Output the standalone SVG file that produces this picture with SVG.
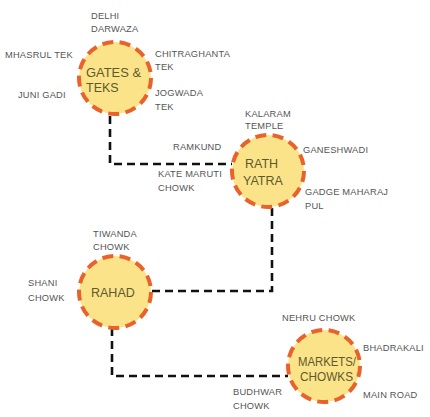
<svg xmlns="http://www.w3.org/2000/svg" width="430" height="417" viewBox="0 0 430 417">
<style>
.bg{fill:#ffffff}
.node circle{fill:#FBE38A;stroke:#E8622C;stroke-width:4;stroke-dasharray:11 6.4}
.lbl{font-family:"Liberation Sans",Arial,sans-serif;font-size:9.3px;fill:#555555;letter-spacing:0.2px}
.ttl{font-family:"Liberation Sans",Arial,sans-serif;font-size:12.5px;fill:#5e5a2c}
.conn path{fill:none;stroke:#111111;stroke-width:2.6;stroke-dasharray:8 5}
</style>
<rect class="bg" x="0" y="0" width="430" height="417"/>
<g id="connectors" class="conn">
<path d="M110 116 V164 H232"/>
<path d="M272 208 V291 H152"/>
<path d="M112 328 V376 H288"/>
</g>
<g id="gates" class="node">
<circle cx="115" cy="78" r="36"/>
<text class="ttl" x="86" y="77" textLength="55" lengthAdjust="spacingAndGlyphs">GATES &amp;</text>
<text class="ttl" x="86" y="92">TEKS</text>
<text class="lbl" x="91" y="19">DELHI</text>
<text class="lbl" x="91" y="32">DARWAZA</text>
<text class="lbl" x="5" y="58">MHASRUL TEK</text>
<text class="lbl" x="155" y="57">CHITRAGHANTA</text>
<text class="lbl" x="155" y="70">TEK</text>
<text class="lbl" x="18" y="98">JUNI GADI</text>
<text class="lbl" x="155" y="96">JOGWADA</text>
<text class="lbl" x="155" y="110">TEK</text>
</g>
<g id="rath-yatra" class="node">
<circle cx="268" cy="171" r="36"/>
<text class="ttl" x="245" y="168">RATH</text>
<text class="ttl" x="243" y="185">YATRA</text>
<text class="lbl" x="245" y="117">KALARAM</text>
<text class="lbl" x="245" y="129">TEMPLE</text>
<text class="lbl" x="173" y="150">RAMKUND</text>
<text class="lbl" x="303" y="153">GANESHWADI</text>
<text class="lbl" x="158" y="177">KATE MARUTI</text>
<text class="lbl" x="158" y="191">CHOWK</text>
<text class="lbl" x="305" y="195">GADGE MAHARAJ</text>
<text class="lbl" x="305" y="209">PUL</text>
</g>
<g id="rahad" class="node">
<circle cx="115" cy="292" r="36"/>
<text class="ttl" x="91" y="297">RAHAD</text>
<text class="lbl" x="93" y="237">TIWANDA</text>
<text class="lbl" x="93" y="250">CHOWK</text>
<text class="lbl" x="28" y="286">SHANI</text>
<text class="lbl" x="28" y="301">CHOWK</text>
</g>
<g id="markets" class="node">
<circle cx="324" cy="366" r="36"/>
<text class="ttl" x="298" y="366" textLength="58" lengthAdjust="spacingAndGlyphs">MARKETS/</text>
<text class="ttl" x="300" y="381" textLength="53" lengthAdjust="spacingAndGlyphs">CHOWKS</text>
<text class="lbl" x="282" y="321">NEHRU CHOWK</text>
<text class="lbl" x="363" y="351">BHADRAKALI</text>
<text class="lbl" x="363" y="398">MAIN ROAD</text>
<text class="lbl" x="233" y="395">BUDHWAR</text>
<text class="lbl" x="233" y="409">CHOWK</text>
</g>
</svg>
